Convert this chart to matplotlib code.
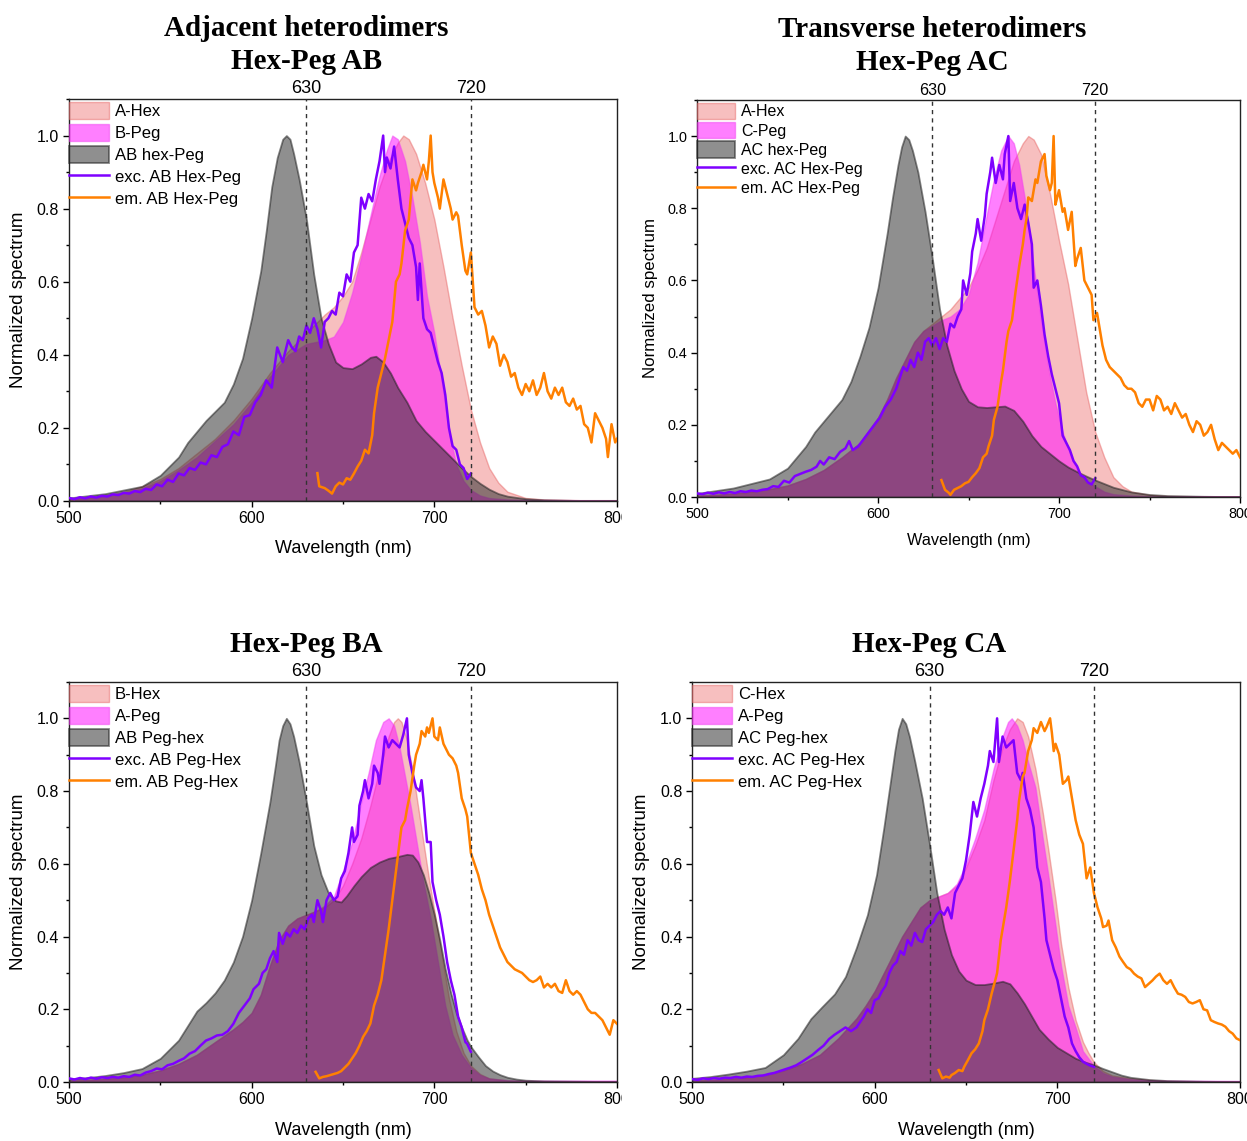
import numpy as np
import matplotlib
matplotlib.use("Agg")
import matplotlib.pyplot as plt
from matplotlib.ticker import MultipleLocator
from matplotlib.transforms import Bbox, TransformedBbox

plt.rcParams['font.family'] = ['Liberation Sans', 'DejaVu Sans']

# ---------------- Adjacent heterodimers, Hex-Peg AB ----------------
ab_hex_wl = [500,510,520,530,540,550,560,570,580,590,600,610,620,630,640,645,650,655,660,665,670,675,680,683,686,690,695,700,705,710,715,720,725,730,735,740,750,760,780,800]
ab_hex = [0.005,0.008,0.015,0.025,0.04,0.06,0.09,0.13,0.17,0.22,0.28,0.35,0.41,0.46,0.51,0.53,0.56,0.6,0.68,0.77,0.86,0.93,0.98,1.0,0.99,0.95,0.87,0.77,0.64,0.5,0.37,0.25,0.16,0.09,0.05,0.025,0.008,0.004,0.002,0.002]
ab_peg_wl = [500,510,520,530,540,550,560,570,580,590,600,610,620,630,635,640,645,650,655,660,665,670,674,677,680,684,688,692,696,700,704,708,712,716,720,725,730,740,750,780,800]
ab_peg = [0.005,0.008,0.013,0.022,0.035,0.055,0.085,0.12,0.165,0.21,0.27,0.34,0.4,0.43,0.435,0.44,0.45,0.49,0.57,0.67,0.78,0.89,0.96,1.0,0.99,0.93,0.83,0.71,0.56,0.46,0.33,0.19,0.1,0.055,0.03,0.015,0.008,0.004,0.003,0.002,0.002]
ab_dim_wl = [500,520,540,550,560,565,570,575,580,585,590,595,600,605,608,611,614,617,619,621,623,626,630,634,638,642,646,650,655,660,665,668,672,676,680,685,690,695,700,705,710,715,720,725,730,735,740,750,760,780,800]
ab_dim = [0.008,0.02,0.04,0.07,0.12,0.16,0.19,0.22,0.245,0.27,0.32,0.39,0.5,0.63,0.74,0.86,0.94,0.99,1.0,0.99,0.95,0.88,0.77,0.62,0.5,0.43,0.38,0.365,0.362,0.375,0.393,0.396,0.38,0.35,0.31,0.27,0.22,0.19,0.165,0.14,0.115,0.09,0.067,0.048,0.032,0.02,0.013,0.006,0.003,0.001,0.001]
ab_exc_wl = [500,503,506,509,512,515,518,521,524,527,530,533,536,539,542,545,548,551,554,557,560,563,566,569,572,575,578,581,584,587,590,593,596,599,602,605,608,611,614,617,620,622,624,626,628,630,632,634,636,638,640,642,644,646,648,650,652,654,656,658,660,662,664,666,668,670,672,673,674,676,678,680,682,684,686,688,690,691,692,694,696,698,700,702,704,706,708,710,712,714,716,718,720]
ab_exc = [0.008,0.005,0.01,0.007,0.012,0.009,0.014,0.012,0.018,0.016,0.022,0.02,0.027,0.024,0.033,0.03,0.045,0.04,0.058,0.052,0.075,0.07,0.09,0.085,0.105,0.1,0.125,0.12,0.148,0.155,0.19,0.18,0.23,0.235,0.27,0.29,0.33,0.31,0.42,0.38,0.44,0.42,0.41,0.45,0.44,0.48,0.46,0.5,0.47,0.42,0.49,0.5,0.52,0.51,0.57,0.56,0.62,0.6,0.68,0.7,0.83,0.8,0.84,0.82,0.88,0.93,1.0,0.9,0.94,0.91,0.97,0.88,0.8,0.76,0.72,0.7,0.64,0.55,0.65,0.5,0.47,0.46,0.42,0.38,0.35,0.29,0.2,0.15,0.14,0.1,0.09,0.06,0.075]
ab_em_wl = [636,637,640,642,644,646,648,650,652,654,656,658,660,662,664,666,667,669,671,673,675,677,679,681,682,684,686,688,690,691,693,694,696,697,698,699,700,702,703,705,707,709,710,712,713,715,717,718,720,722,724,726,728,730,732,734,736,738,740,742,744,746,748,750,752,754,756,758,760,762,764,766,768,770,772,774,776,778,780,782,784,786,788,790,792,794,795,797,799,800]
ab_em = [0.076,0.04,0.035,0.028,0.02,0.04,0.05,0.045,0.062,0.058,0.075,0.094,0.11,0.14,0.13,0.18,0.24,0.31,0.35,0.39,0.44,0.49,0.6,0.62,0.65,0.74,0.77,0.88,0.85,0.87,0.9,0.92,0.88,0.93,1.0,0.9,0.87,0.83,0.8,0.88,0.84,0.8,0.77,0.79,0.78,0.7,0.63,0.62,0.68,0.53,0.51,0.52,0.48,0.42,0.45,0.43,0.37,0.4,0.38,0.34,0.35,0.31,0.29,0.32,0.3,0.33,0.29,0.31,0.35,0.3,0.28,0.31,0.29,0.31,0.27,0.26,0.28,0.25,0.26,0.21,0.2,0.16,0.24,0.22,0.2,0.17,0.12,0.21,0.16,0.17]

# ---------------- Transverse heterodimers, Hex-Peg AC ----------------
ac_hex_wl = [500,510,520,530,540,550,560,570,580,590,600,605,610,615,620,625,630,635,640,645,650,655,660,665,670,675,680,683,686,690,695,700,705,710,715,720,725,730,735,740,750,760,780,800]
ac_hex = [0.004,0.006,0.01,0.015,0.022,0.032,0.05,0.075,0.11,0.15,0.22,0.27,0.33,0.38,0.43,0.46,0.48,0.5,0.52,0.55,0.58,0.63,0.69,0.77,0.85,0.93,0.98,1.0,0.99,0.95,0.84,0.71,0.59,0.44,0.29,0.18,0.11,0.055,0.03,0.015,0.006,0.003,0.002,0.002]
ac_peg_wl = [500,510,520,530,540,550,560,570,580,590,600,605,610,615,620,625,630,635,640,645,650,655,660,664,668,672,675,678,681,684,687,690,694,698,702,706,710,715,720,725,730,740,750,760,780,800]
ac_peg = [0.004,0.006,0.01,0.015,0.022,0.032,0.05,0.075,0.11,0.15,0.22,0.27,0.33,0.38,0.43,0.46,0.475,0.49,0.5,0.52,0.56,0.65,0.78,0.88,0.96,1.0,0.98,0.92,0.83,0.72,0.6,0.49,0.36,0.26,0.18,0.12,0.075,0.045,0.03,0.015,0.008,0.004,0.002,0.002,0.002,0.002]
ac_dim_wl = [500,520,540,550,560,565,570,575,580,585,590,595,600,605,608,611,613,615,617,619,622,626,630,634,638,642,646,650,655,660,665,670,675,680,685,690,695,700,705,710,715,720,725,730,740,750,760,780,800]
ac_dim = [0.01,0.025,0.05,0.08,0.14,0.18,0.21,0.24,0.27,0.32,0.39,0.47,0.58,0.73,0.83,0.92,0.97,1.0,0.99,0.96,0.9,0.79,0.66,0.52,0.42,0.35,0.3,0.265,0.25,0.248,0.25,0.252,0.24,0.21,0.17,0.14,0.12,0.1,0.083,0.07,0.058,0.047,0.037,0.027,0.014,0.007,0.004,0.002,0.001]
ac_exc_wl = [500,503,506,509,512,515,518,521,524,527,530,533,536,539,542,545,548,551,554,557,560,563,566,568,570,573,576,579,582,584,586,589,592,595,598,601,604,607,610,612,614,616,618,620,622,624,626,628,630,632,634,636,638,640,642,644,646,647,649,651,652,654,655,657,659,660,662,663,665,667,669,670,672,673,675,677,679,681,683,685,686,688,690,692,694,696,698,700,702,704,706,708,710,712,714,716,718,720]
ac_exc = [0.01,0.008,0.012,0.009,0.013,0.01,0.014,0.011,0.016,0.014,0.018,0.016,0.02,0.022,0.03,0.028,0.045,0.04,0.058,0.064,0.07,0.075,0.084,0.1,0.09,0.11,0.105,0.125,0.135,0.155,0.13,0.14,0.16,0.18,0.2,0.22,0.25,0.27,0.3,0.33,0.36,0.35,0.38,0.36,0.4,0.38,0.43,0.44,0.42,0.44,0.41,0.44,0.43,0.48,0.47,0.5,0.52,0.6,0.56,0.62,0.68,0.73,0.77,0.71,0.78,0.84,0.9,0.94,0.87,0.92,0.88,0.95,1.0,0.82,0.87,0.8,0.77,0.81,0.76,0.7,0.58,0.6,0.53,0.45,0.39,0.34,0.3,0.26,0.17,0.15,0.13,0.1,0.085,0.06,0.055,0.04,0.035,0.052]
ac_em_wl = [635,637,639,640,642,644,646,648,650,652,654,656,658,660,661,663,664,666,668,669,671,672,674,676,678,680,681,682,683,685,687,688,690,692,693,695,696,697,698,699,700,702,703,705,707,709,710,712,714,716,718,719,721,722,724,726,728,730,732,734,736,738,740,742,744,746,748,750,752,754,756,758,760,762,764,766,768,770,772,774,776,778,780,782,784,786,788,790,792,794,796,798,800]
ac_em = [0.047,0.02,0.012,0.006,0.02,0.025,0.03,0.038,0.042,0.055,0.066,0.08,0.11,0.12,0.14,0.17,0.214,0.25,0.32,0.35,0.43,0.46,0.49,0.57,0.64,0.7,0.74,0.77,0.83,0.82,0.88,0.87,0.93,0.95,0.89,0.85,0.87,1.0,0.81,0.83,0.85,0.79,0.8,0.74,0.79,0.64,0.66,0.69,0.6,0.58,0.56,0.49,0.51,0.48,0.42,0.38,0.36,0.35,0.34,0.33,0.31,0.3,0.3,0.29,0.26,0.25,0.27,0.27,0.24,0.28,0.27,0.24,0.25,0.23,0.26,0.24,0.22,0.23,0.2,0.18,0.21,0.2,0.17,0.18,0.2,0.16,0.13,0.15,0.14,0.13,0.12,0.13,0.11]

# ---------------- Hex-Peg BA ----------------
ba_hex_wl = [500,510,520,530,540,550,560,570,580,590,595,600,605,610,615,620,625,630,635,640,645,650,655,660,665,670,675,678,680,682,685,688,691,694,697,700,704,708,712,716,720,725,730,740,750,770,800]
ba_hex = [0.004,0.006,0.009,0.013,0.02,0.032,0.05,0.075,0.11,0.145,0.165,0.19,0.24,0.32,0.39,0.43,0.45,0.46,0.47,0.48,0.5,0.54,0.6,0.67,0.76,0.86,0.95,0.99,1.0,0.99,0.94,0.86,0.76,0.66,0.56,0.47,0.35,0.23,0.14,0.08,0.045,0.022,0.01,0.004,0.003,0.002,0.002]
ba_peg_wl = [500,510,520,530,540,550,560,570,580,590,595,600,605,610,615,620,625,630,635,640,645,650,655,660,664,668,672,675,678,681,684,687,690,694,698,702,706,710,715,720,725,730,740,750,800]
ba_peg = [0.004,0.006,0.009,0.013,0.02,0.032,0.05,0.075,0.11,0.145,0.165,0.19,0.24,0.32,0.39,0.43,0.45,0.46,0.47,0.485,0.51,0.58,0.66,0.77,0.85,0.94,0.99,1.0,0.98,0.92,0.84,0.76,0.67,0.55,0.45,0.33,0.21,0.13,0.075,0.04,0.02,0.01,0.005,0.004,0.004]
ba_dim_wl = [500,510,520,530,540,550,560,565,570,575,580,585,590,595,600,605,610,613,615,617,619,621,623,626,630,634,638,642,646,649,652,656,660,665,670,675,680,685,688,691,694,697,700,703,706,709,712,715,718,720,724,728,732,736,740,745,750,760,780,800]
ba_dim = [0.008,0.012,0.018,0.026,0.037,0.065,0.115,0.155,0.195,0.218,0.245,0.28,0.33,0.4,0.5,0.63,0.77,0.87,0.94,0.98,1.0,0.985,0.95,0.88,0.77,0.65,0.57,0.52,0.498,0.495,0.512,0.54,0.565,0.59,0.605,0.615,0.62,0.626,0.624,0.605,0.57,0.52,0.46,0.39,0.31,0.245,0.19,0.15,0.115,0.097,0.07,0.045,0.03,0.02,0.013,0.008,0.005,0.003,0.002,0.001]
ba_exc_wl = [500,503,506,509,512,515,518,521,524,527,530,533,536,539,542,545,548,551,554,557,560,563,566,569,572,575,578,581,584,587,590,593,596,599,601,604,606,608,610,612,614,615,617,619,621,623,625,627,629,631,633,634,636,638,639,641,643,645,647,649,651,653,655,656,658,659,661,662,664,666,667,669,670,672,673,675,677,679,681,683,685,686,688,690,692,693,694,696,698,699,701,703,705,707,709,711,713,715,717,718,720]
ba_exc = [0.01,0.007,0.011,0.008,0.012,0.009,0.013,0.011,0.014,0.012,0.016,0.014,0.02,0.018,0.026,0.03,0.037,0.035,0.046,0.05,0.058,0.065,0.078,0.085,0.1,0.114,0.12,0.128,0.13,0.14,0.16,0.19,0.21,0.23,0.255,0.27,0.3,0.31,0.34,0.36,0.33,0.41,0.38,0.41,0.4,0.42,0.41,0.43,0.42,0.45,0.46,0.44,0.5,0.47,0.44,0.5,0.52,0.5,0.51,0.56,0.58,0.63,0.7,0.66,0.68,0.76,0.8,0.83,0.78,0.82,0.87,0.85,0.82,0.9,0.95,0.92,0.94,0.93,0.92,0.955,1.0,0.9,0.85,0.81,0.8,0.83,0.78,0.66,0.66,0.55,0.5,0.46,0.4,0.33,0.28,0.24,0.18,0.15,0.11,0.105,0.083]
ba_em_wl = [635,637,639,641,643,645,647,649,651,653,655,657,659,661,663,665,667,669,671,673,675,677,679,680,682,684,685,687,689,690,692,693,695,696,697,699,700,702,703,705,706,708,710,712,713,715,717,718,720,722,724,726,728,730,732,734,736,738,740,742,744,746,748,750,752,754,756,758,760,762,764,766,768,770,772,774,776,778,780,782,784,786,788,790,792,794,796,798,800]
ba_em = [0.028,0.01,0.014,0.016,0.019,0.022,0.025,0.03,0.04,0.05,0.065,0.08,0.1,0.124,0.14,0.161,0.21,0.24,0.28,0.35,0.42,0.5,0.58,0.62,0.7,0.72,0.75,0.8,0.87,0.9,0.93,0.965,0.95,0.975,0.96,1.0,0.95,0.94,0.975,0.93,0.92,0.9,0.89,0.87,0.85,0.78,0.75,0.73,0.63,0.6,0.57,0.53,0.5,0.46,0.43,0.4,0.37,0.35,0.33,0.32,0.31,0.305,0.3,0.29,0.28,0.275,0.28,0.29,0.26,0.27,0.26,0.27,0.25,0.245,0.28,0.25,0.24,0.25,0.24,0.22,0.2,0.19,0.19,0.18,0.17,0.15,0.13,0.17,0.16]

# ---------------- Hex-Peg CA ----------------
ca_hex_wl = [500,510,520,530,540,550,560,570,580,590,595,600,605,610,615,620,625,630,635,640,645,650,655,660,665,670,674,678,681,684,688,692,695,699,702,706,710,714,717,720,725,730,740,750,760,780,800]
ca_hex = [0.004,0.006,0.009,0.013,0.02,0.032,0.05,0.075,0.12,0.175,0.21,0.25,0.3,0.35,0.4,0.44,0.48,0.5,0.51,0.52,0.54,0.59,0.65,0.72,0.83,0.92,0.97,1.0,0.99,0.95,0.86,0.74,0.64,0.5,0.38,0.26,0.17,0.11,0.08,0.055,0.03,0.018,0.01,0.006,0.003,0.002,0.002]
ca_peg_wl = [500,510,520,530,540,550,560,570,580,590,595,600,605,610,615,620,625,630,635,640,645,650,655,660,665,670,673,675,678,681,684,688,692,695,699,702,706,710,714,717,720,725,730,740,750,760,800]
ca_peg = [0.004,0.006,0.009,0.013,0.02,0.032,0.05,0.075,0.12,0.175,0.21,0.25,0.3,0.35,0.4,0.44,0.48,0.5,0.51,0.52,0.545,0.6,0.67,0.75,0.86,0.95,0.99,1.0,0.98,0.94,0.88,0.81,0.67,0.57,0.43,0.32,0.21,0.15,0.085,0.065,0.045,0.025,0.015,0.008,0.005,0.004,0.003]
ca_dim_wl = [500,510,520,530,540,550,558,565,571,578,584,590,596,601,605,609,611,613,615,617,619,622,626,630,634,638,642,646,650,655,660,665,670,674,678,682,686,690,695,700,705,710,715,720,725,730,735,740,750,760,780,800]
ca_dim = [0.01,0.015,0.022,0.03,0.04,0.075,0.12,0.174,0.206,0.242,0.29,0.37,0.46,0.57,0.7,0.84,0.91,0.97,1.0,0.985,0.95,0.88,0.78,0.654,0.52,0.42,0.35,0.305,0.28,0.268,0.268,0.272,0.277,0.27,0.245,0.215,0.18,0.145,0.118,0.095,0.08,0.065,0.055,0.047,0.037,0.028,0.019,0.013,0.007,0.004,0.002,0.001]
ca_exc_wl = [500,503,506,509,512,515,518,521,524,527,530,533,536,539,542,545,548,551,554,557,560,563,566,569,572,575,578,581,584,587,590,592,594,596,598,600,602,604,606,608,610,612,614,616,618,620,622,624,626,628,630,632,634,636,638,640,642,644,646,648,650,652,654,656,658,660,662,663,665,667,668,670,672,674,676,678,680,681,683,685,687,689,691,693,694,696,698,700,702,704,706,708,710,712,714,716,718,720]
ca_exc = [0.008,0.006,0.01,0.008,0.011,0.009,0.012,0.011,0.014,0.012,0.015,0.014,0.017,0.018,0.022,0.025,0.03,0.035,0.04,0.046,0.055,0.065,0.075,0.088,0.1,0.118,0.13,0.14,0.15,0.14,0.15,0.165,0.18,0.2,0.19,0.225,0.23,0.25,0.265,0.3,0.32,0.33,0.36,0.35,0.39,0.375,0.41,0.39,0.385,0.42,0.43,0.44,0.46,0.47,0.46,0.48,0.45,0.52,0.54,0.56,0.61,0.68,0.77,0.73,0.78,0.82,0.87,0.91,0.88,1.0,0.88,0.95,0.92,0.93,0.94,0.85,0.83,0.85,0.78,0.75,0.7,0.59,0.55,0.45,0.39,0.35,0.31,0.28,0.23,0.18,0.15,0.106,0.085,0.068,0.056,0.05,0.045,0.042]
ca_em_wl = [635,637,639,641,642,644,646,648,649,651,653,655,657,659,660,662,664,666,667,669,670,672,674,676,678,679,681,682,684,686,687,689,690,691,693,694,696,697,698,699,701,703,705,706,708,710,712,714,716,718,720,722,724,725,727,728,730,732,734,736,738,740,742,744,746,748,750,752,754,756,758,760,762,764,766,768,770,772,774,776,778,780,782,784,786,788,790,792,794,796,798,800]
ca_em = [0.033,0.01,0.015,0.012,0.019,0.025,0.033,0.03,0.042,0.06,0.079,0.09,0.106,0.14,0.17,0.2,0.243,0.28,0.3,0.39,0.42,0.48,0.553,0.636,0.72,0.773,0.84,0.85,0.91,0.94,0.973,0.96,0.975,0.99,0.965,0.975,1.0,0.96,0.91,0.93,0.9,0.82,0.83,0.84,0.78,0.72,0.68,0.655,0.56,0.59,0.52,0.48,0.45,0.426,0.43,0.444,0.39,0.37,0.345,0.33,0.316,0.31,0.298,0.29,0.285,0.261,0.27,0.279,0.29,0.298,0.28,0.27,0.28,0.26,0.243,0.24,0.234,0.22,0.216,0.22,0.225,0.2,0.197,0.17,0.165,0.161,0.158,0.152,0.14,0.133,0.12,0.115]

panels = [
    dict(pos=[0.0553, 0.561, 0.4395, 0.3522], fs=1.0, leg_fs=12, leg_ls=0.285, xpad=10,
         title="Adjacent heterodimers\nHex-Peg AB",
         labels=["A-Hex", "B-Peg", "AB hex-Peg", "exc. AB Hex-Peg", "em. AB Hex-Peg"],
         hexd=(ab_hex_wl, ab_hex), peg=(ab_peg_wl, ab_peg), dim=(ab_dim_wl, ab_dim),
         exc=(ab_exc_wl, ab_exc), em=(ab_em_wl, ab_em), clip=True),
    dict(pos=[0.559, 0.5644, 0.4354, 0.348], fs=0.9, leg_fs=11.5, leg_ls=0.17, xpad=9,
         title="Transverse heterodimers\nHex-Peg AC",
         labels=["A-Hex", "C-Peg", "AC hex-Peg", "exc. AC Hex-Peg", "em. AC Hex-Peg"],
         hexd=(ac_hex_wl, ac_hex), peg=(ac_peg_wl, ac_peg), dim=(ac_dim_wl, ac_dim),
         exc=(ac_exc_wl, ac_exc), em=(ac_em_wl, ac_em), clip=False),
    dict(pos=[0.0553, 0.0517, 0.4395, 0.3506], fs=1.0, leg_fs=12, leg_ls=0.285, xpad=11,
         title="Hex-Peg BA",
         labels=["B-Hex", "A-Peg", "AB Peg-hex", "exc. AB Peg-Hex", "em. AB Peg-Hex"],
         hexd=(ba_hex_wl, ba_hex), peg=(ba_peg_wl, ba_peg), dim=(ba_dim_wl, ba_dim),
         exc=(ba_exc_wl, ba_exc), em=(ba_em_wl, ba_em), clip=True),
    dict(pos=[0.555, 0.0517, 0.4394, 0.3506], fs=1.0, leg_fs=12, leg_ls=0.285, xpad=11,
         title="Hex-Peg CA",
         labels=["C-Hex", "A-Peg", "AC Peg-hex", "exc. AC Peg-Hex", "em. AC Peg-Hex"],
         hexd=(ca_hex_wl, ca_hex), peg=(ca_peg_wl, ca_peg), dim=(ca_dim_wl, ca_dim),
         exc=(ca_exc_wl, ca_exc), em=(ca_em_wl, ca_em), clip=False),
]

fig = plt.figure(figsize=(12.47, 11.41), dpi=100)

for p in panels:
    ax = fig.add_axes(p['pos'])
    fs = p['fs']
    h1 = ax.fill_between(p['hexd'][0], p['hexd'][1], color='#F08080', alpha=0.5,
                         edgecolor='#E86A6A', linewidth=1.0, label=p['labels'][0], zorder=1)
    h2 = ax.fill_between(p['peg'][0], p['peg'][1], color='#FF00FF', alpha=0.5,
                         edgecolor='#F040F0', linewidth=1.0, label=p['labels'][1], zorder=2)
    h3 = ax.fill_between(p['dim'][0], p['dim'][1], color='#333333', alpha=0.55,
                         edgecolor='#222222', linewidth=1.3, label=p['labels'][2], zorder=3)
    l1, = ax.plot(p['exc'][0], p['exc'][1], color='#7F00FF', lw=1.8,
                  label=p['labels'][3], zorder=5)
    l2, = ax.plot(p['em'][0], p['em'][1], color='#FF8000', lw=1.8,
                  label=p['labels'][4], zorder=6)

    for xv in (630, 720):
        ax.axvline(xv, color='#333333', lw=1.0, ls=(0, (3, 3)), zorder=7)
        ax.annotate(str(xv), xy=(xv, 1.0), xycoords=('data', 'axes fraction'),
                    xytext=(0, 1.5), textcoords='offset points',
                    ha='center', va='bottom', fontsize=13 * fs)

    ax.annotate(p['title'], xy=(630, 1.0), xycoords=('data', 'axes fraction'),
                xytext=(0, 17), textcoords='offset points', ha='center', va='bottom',
                fontsize=21, fontweight='bold', family='Liberation Serif',
                linespacing=1.3)

    ax.set_xlim(500, 800)
    ax.set_ylim(0, 1.1)
    ax.xaxis.set_major_locator(MultipleLocator(100))
    ax.xaxis.set_minor_locator(MultipleLocator(50))
    ax.yaxis.set_minor_locator(MultipleLocator(0.1))
    ax.set_yticks([0, 0.2, 0.4, 0.6, 0.8, 1.0])
    ax.set_yticklabels(["0.0", "0.2", "0.4", "0.6", "0.8", "1.0"])
    ax.tick_params(which='major', direction='out', length=4, width=1, labelsize=11.5 * fs, pad=3)
    ax.tick_params(which='minor', direction='out', length=2.5, width=1)
    for s in ax.spines.values():
        s.set_linewidth(1.0)
        s.set_color('#222222')
    ax.set_xlabel("Wavelength (nm)", fontsize=13 * fs, labelpad=p['xpad'])
    ax.set_ylabel("Normalized spectrum", fontsize=13.5 * fs, labelpad=7)

    ax.legend(handles=[h1, h2, h3, l1, l2], loc='upper left', bbox_to_anchor=(0, 0.993),
              frameon=False, fontsize=p['leg_fs'], borderpad=0, borderaxespad=0,
              handlelength=2.4, handleheight=1.2, handletextpad=0.35,
              labelspacing=p['leg_ls'])

    if p['clip']:
        box = TransformedBbox(Bbox([[0, 0], [0.4985, 1]]), fig.transFigure)
        for t in ax.get_xticklabels():
            t.set_clip_box(box)
            t.set_clip_on(True)

fig.savefig("out.png", dpi=100)
